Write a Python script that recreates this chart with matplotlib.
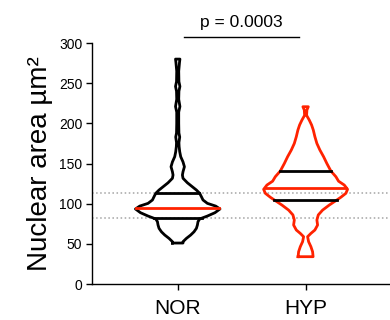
import numpy as np
import matplotlib.pyplot as plt

plt.rcParams['font.family'] = ['Liberation Sans', 'DejaVu Sans']

groups = ["NOR", "HYP"]
ylabel = "Nuclear area µm²"
p_text = "p = 0.0003"

# violin outlines: value levels and half widths (px / 128)
nor_y = [51, 52.7, 56.8, 61, 65, 69.3, 73.4, 77.6, 81, 84.6, 88.8, 93.4, 97,
         100.4, 104.6, 108.7, 112.9, 117, 121, 126, 131.6, 135.7, 139.8, 146,
         152, 158.5, 164.7, 171, 176, 183, 188, 200, 214, 221, 230, 240, 246,
         252, 265, 276, 280]
nor_w = [5.3, 5.3, 8.7, 13, 16.3, 18.7, 19.7, 20.3, 22, 29.7, 37.3, 42.3, 38,
         29.7, 25.3, 23.7, 22, 18.7, 14.7, 9.7, 5.3, 4.7, 5.3, 6.7,
         5.3, 3, 2, 1.4, 1.2, 2, 1.2, 1, 1, 2.2, 1, 1.2, 2.2,
         1.2, 1, 1.8, 2.2]
hyp_y = [34, 40.2, 46.5, 52.7, 58.9, 63, 67.2, 73.4, 79.7, 86, 92, 98.3, 104.6,
         108, 112.9, 117.9, 123.2, 128, 133.6, 140.7, 150, 158.5, 166.8, 175,
         183.4, 191.7, 198, 204, 210, 216.6, 220.7]
hyp_w = [7.5, 7, 5.3, 3, 2, 5.3, 9.3, 12, 11.3, 12.7, 17, 23.7, 31.3,
         35.3, 40.3, 42, 38.7, 33, 30.3, 25.3, 21.3, 18, 14.3, 11.3,
         9.3, 7.7, 6, 3.7, 1, 1.3, 2.7]

# quartiles (q1, median, q3)
nor_q = [82, 94, 113.5]
hyp_q = [104.6, 120, 140.7]
ref_lines = [113, 82]

red = "#ff2200"

fig = plt.figure(figsize=(3.9, 3.2), dpi=100)
ax = fig.add_axes([0.236, 0.1125, 0.764, 0.753])

for yv in ref_lines:
    ax.axhline(yv, color="#b8b8b8", ls=(0, (0.8, 1.3)), lw=1.4, zorder=1)

for i, (ys, ws, q, col) in enumerate([(nor_y, nor_w, nor_q, "black"),
                                      (hyp_y, hyp_w, hyp_q, red)]):
    ys = np.array(ys, dtype=float)
    ws = np.array(ws) / 128.0
    xs = np.concatenate([i - ws, (i + ws)[::-1], [i - ws[0]]])
    yy = np.concatenate([ys, ys[::-1], [ys[0]]])
    ax.plot(xs, yy, color=col, lw=2, solid_joinstyle="round", zorder=3)
    for k, qv in enumerate(q):
        hw = np.interp(qv, ys, ws)
        lc = red if k == 1 else "black"
        ax.plot([i - hw, i + hw], [qv, qv], color=lc, lw=2, zorder=4)

ax.set_xlim(-0.67, 1.66)
ax.set_ylim(0, 300)
ax.set_yticks(range(0, 301, 50))
ax.set_xticks([0, 1])
ax.set_xticklabels(groups, fontsize=15)
ax.tick_params(axis="y", labelsize=10, length=4, width=1, pad=3)
ax.tick_params(axis="x", length=4, width=1, pad=7)
ax.set_ylabel(ylabel, fontsize=20, labelpad=4)
for s in ["top", "right"]:
    ax.spines[s].set_visible(False)
for s in ["left", "bottom"]:
    ax.spines[s].set_linewidth(1)

ax.plot([0.05, 0.95], [308, 308], color="black", lw=1, clip_on=False)
ax.text(0.5, 316, p_text, ha="center", va="bottom", fontsize=12.5)

fig.savefig("out.png", dpi=100)
